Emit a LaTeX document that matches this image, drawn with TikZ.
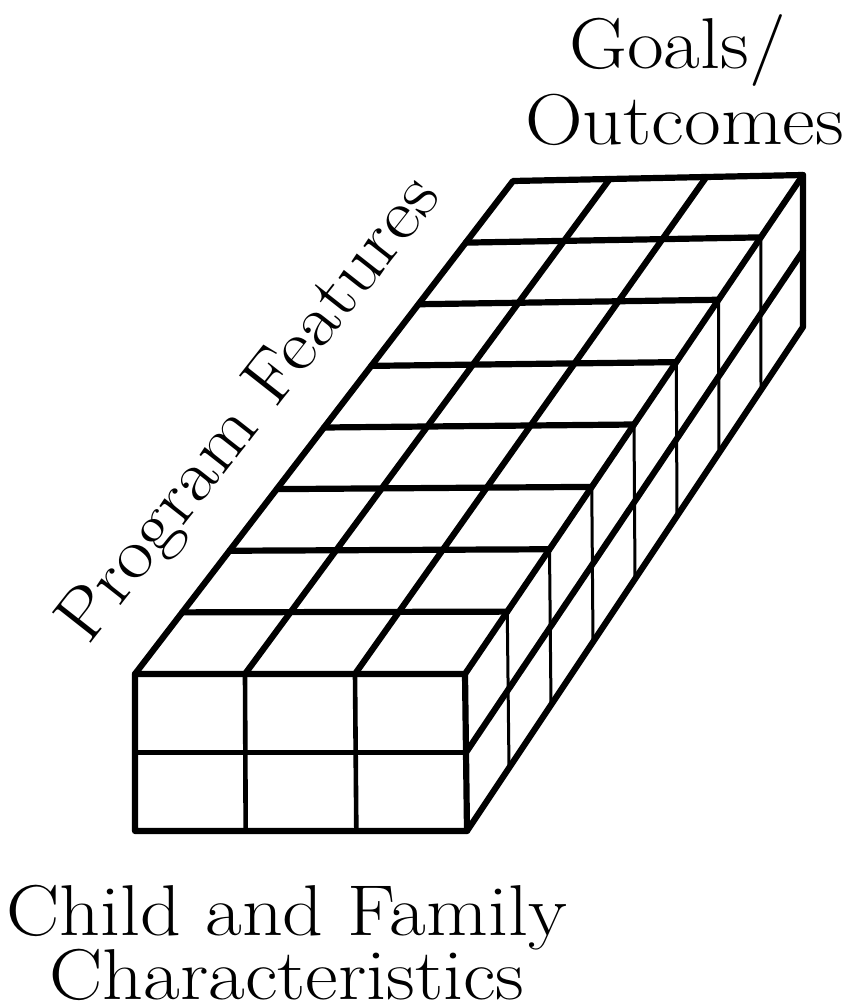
\documentclass[tikz,border=0pt]{standalone}
\usetikzlibrary{calc}
\begin{document}
\begin{tikzpicture}[x=1pt,y=-1pt,
  edge/.style={line width=6.2pt, line cap=round, line join=round},
  gridline/.style={line width=4.6pt, line cap=round},
  fine/.style={line width=3pt},
  lbl/.style={font=\fontsize{72}{80}\selectfont, inner sep=0pt}]
\useasboundingbox (0,0) rectangle (844,1008);
% corners
\coordinate (FTL) at (135,674);
\coordinate (FTR) at (465,674);
\coordinate (FBL) at (135,831);
\coordinate (FBR) at (467,831);
\coordinate (BTL) at (513,181);
\coordinate (BTR) at (803,175);
\coordinate (BBR) at (803,327);
% front face grid
\foreach \u in {1,2}
  \draw[gridline] ($(FTL)!\u/3!(FTR)$) -- ($(FBL)!\u/3!(FBR)$);
\draw[gridline] ($(FTL)!0.5!(FBL)$) -- ($(FTR)!0.5!(FBR)$);
% top face grid
\foreach \v in {1,...,7}
  \draw[edge] ($(FTL)!\v/8!(BTL)$) -- ($(FTR)!\v/8!(BTR)$);
\foreach \u in {1,2}
  \draw[edge] ($(FTL)!\u/3!(FTR)$) -- ($(BTL)!\u/3!(BTR)$);
% right face grid
\foreach \v in {1,...,7}
  \draw[fine] ($(FTR)!\v/8!(BTR)$) -- ($(FBR)!\v/8!(BBR)$);
\draw[edge] ($(FTR)!0.5!(FBR)$) -- ($(BTR)!0.5!(BBR)$);
% outline
\draw[edge] (FTL) -- (BTL) -- (BTR) -- (BBR) -- (FBR) -- (FBL) -- cycle;
\draw[edge] (FTL) -- (FTR) -- (BTR);
\draw[edge] (FTR) -- (FBR);
% labels
\node[lbl, anchor=base west] (goals) at (569,69) {\scalebox{1.11}[1]{Goals/}};
\node[lbl, anchor=base west] (outcomes) at (525,145) {\scalebox{1.11}[1]{Outcomes}};
\node[lbl, anchor=base west, rotate=51.8] (features) at (88,647) {\scalebox{1.11}[1]{Program Features}};
\node[lbl, anchor=base west] (child) at (6,935) {\scalebox{1.11}[1]{Child and Family}};
\node[lbl, anchor=base west] (chars) at (49,999) {\scalebox{1.11}[1]{Characteristics}};
\end{tikzpicture}
\end{document}
